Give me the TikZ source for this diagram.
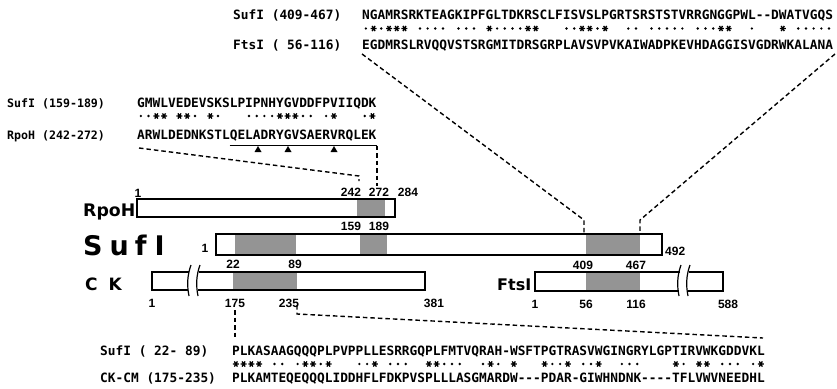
\documentclass[tikz,border=0pt]{standalone}
\usepackage{fontspec}
\setmainfont{Liberation Sans}
\newfontfamily\seqfont{DejaVu Sans Mono}
\newfontfamily\bigfont{DejaVu Sans}
\begin{document}
\begin{tikzpicture}[x=1pt,y=-1pt,
  seq/.style={font=\seqfont\bfseries\fontsize{12.82}{14}\selectfont, inner sep=0pt, anchor=base west},
  seqb/.style={font=\seqfont\bfseries\fontsize{12.82}{14}\selectfont, inner sep=0pt, anchor=base west},
  lab/.style={font=\seqfont\bfseries\fontsize{11.6}{13}\selectfont, inner sep=0pt, anchor=base west},
  num/.style={font=\bfseries\fontsize{12}{13}\selectfont, inner sep=0pt, anchor=base},
  bigl/.style={inner sep=0pt, anchor=base west},
  conn/.style={dash pattern=on 4.5pt off 3pt, line width=1.4pt},
  shade/.style={fill=black!42},
  thinbox/.style={line width=1.2pt},
  midbox/.style={line width=1.5pt},
  thickbox/.style={line width=2.4pt},
  brk/.style={line width=1.2pt},
  starln/.style={line width=1.3pt},
]
\useasboundingbox (0,0) rectangle (837,388);
\fill[white] (0,0) rectangle (837,388);

% ---------- top alignment (SufI 409-467 / FtsI 56-116)
\node[seq] (tlab1) at (233,19) {SufI (409-467)};
\node[seq] (tseq1) at (362,19) {NGAMRSRKTEAGKIPFGLTDKRSCLFISVSLPGRTSRSTSTVRRGNGGPWL-{}-DWATVGQS};
\node[seq] (tlab2) at (233,49) {FtsI ( 56-116)};
\node[seq] (tseq2) at (362,49) {EGDMRSLRVQQVSTSRGMITDRSGRPLAVSVPVKAIWADPKEVHDAGGISVGDRWKALANA};
\foreach \p in {1,3,4,5,16,21,22,28,29,31,46,47,54}{
  \pgfmathsetmacro\xx{362+(\p+0.5)*7.72}
  \draw[starln] (\xx,28.5) +(-3,0) -- +(3,0) +(-1.5,-2.6) -- +(1.5,2.6) +(-1.5,2.6) -- +(1.5,-2.6);
}
\foreach \p in {0,2,7,8,9,10,12,13,14,17,18,19,20,26,27,30,34,35,37,38,39,40,41,43,44,45,50,56,57,58,59,60}{
  \pgfmathsetmacro\xx{362+(\p+0.5)*7.72}
  \fill (\xx,28.5) circle (1.35pt);
}

% ---------- left alignment (SufI 159-189 / RpoH 242-272)
\node[lab] (llab1) at (7,107) {SufI (159-189)};
\node[seqb] (lseq1) at (137,107) {GMWLVEDEVSKSLPIPNHYGVDDFPVIIQDK};
\node[lab] (llab2) at (7,139) {RpoH (242-272)};
\node[seqb] (lseq2) at (137,139) {ARWLDEDNKSTLQELADRYGVSAERVRQLEK};
\foreach \p in {2,3,5,6,9,18,19,20,25,30}{
  \pgfmathsetmacro\xx{137+(\p+0.5)*7.72}
  \draw[starln] (\xx,116) +(-3,0) -- +(3,0) +(-1.5,-2.6) -- +(1.5,2.6) +(-1.5,2.6) -- +(1.5,-2.6);
}
\foreach \p in {0,1,7,10,14,15,16,17,21,22,24,29}{
  \pgfmathsetmacro\xx{137+(\p+0.5)*7.72}
  \fill (\xx,116) circle (1.35pt);
}
\coordinate (ulA) at (229.6,145.5);
\coordinate (ulB) at (377,145.5);
\draw[line width=1.8pt] (ulA) -- (ulB);
\foreach \t in {258,288,334}{
  \fill (\t,146) -- (\t-3.5,152) -- (\t+3.5,152) -- cycle;
}

% ---------- bottom alignment (SufI 22-89 / CK-CM 175-235)
\node[seq] (blab1) at (100,355) {SufI ( 22- 89)};
\node[seq] (bseq1) at (232,355) {PLKASAAGQQQPLPVPPLLESRRGQPLFMTVQRAH-WSFTPGTRASVWGINGRYLGPTIRVWKGDDVKL};
\node[seq] (blab2) at (100,382) {CK-CM (175-235)};
\node[seq] (bseq2) at (232,382) {PLKAMTEQEQQQLIDDHFLFDKPVSPLLLASGMARDW-{}-{}-PDAR-GIWHNDNK-{}-{}-{}-TFLVWVNEEDHL};
\foreach \p in {0,1,2,3,9,10,12,18,25,26,33,36,40,43,47,57,60,61,68}{
  \pgfmathsetmacro\xx{232+(\p+0.5)*7.72}
  \draw[starln] (\xx,364) +(-3,0) -- +(3,0) +(-1.5,-2.6) -- +(1.5,2.6) +(-1.5,2.6) -- +(1.5,-2.6);
}
\foreach \p in {5,6,8,11,16,17,20,21,22,27,28,29,32,34,41,42,45,46,50,51,52,58,63,64,65,67}{
  \pgfmathsetmacro\xx{232+(\p+0.5)*7.72}
  \fill (\xx,364) circle (1.35pt);
}

% ---------- RpoH bar
\fill[shade] (357,199) rectangle (385,217);
\draw[thinbox] (137,199) rectangle (395,217);
\node[bigl, font=\bigfont\bfseries\fontsize{17.3}{20}\selectfont] (rpohlab) at (83,216) {RpoH};
\node[num] (r1) at (138,197) {1};
\node[num] (r242) at (351,196) {242};
\node[num] (r272) at (379,196) {272};
\node[num] (r284) at (408,196) {284};

% ---------- SufI bar
\fill[shade] (235,234) rectangle (296,255);
\fill[shade] (360,234) rectangle (387,255);
\fill[shade] (586,234) rectangle (640,255);
\draw[thickbox] (216,234) rectangle (662,255);
\node[bigl, font=\bigfont\bfseries\fontsize{27}{30}\selectfont] (suflab) at (83,255) {S\hspace{7pt}u\hspace{6pt}f\hspace{8pt}I};
\node[num] (s1) at (205,252) {1};
\node[num] (s159) at (351,230) {159};
\node[num] (s189) at (379,230) {189};
\node[num, anchor=base west] (s492) at (665,255) {492};
\node[num] (s22) at (233,268) {22};
\node[num] (s89) at (295,268) {89};
\node[num] (s409) at (583,269) {409};
\node[num] (s467) at (636,269) {467};

% ---------- CK bar
\fill[shade] (233,272) rectangle (297,290);
\draw[midbox] (189,272) -- (152,272) -- (152,290) -- (188,290);
\draw[midbox] (199,272) -- (425,272) -- (425,290) -- (198,290);
\draw[brk] (191,265) .. controls (187,276) and (187,286) .. (189,296);
\draw[brk] (200,265) .. controls (196,276) and (196,286) .. (198,296);
\node[bigl, font=\bigfont\bfseries\fontsize{17}{20}\selectfont] (cklab) at (85,290) {C\hspace{11pt}K};
\node[num] (c1) at (152,307) {1};
\node[num] (c175) at (235,307) {175};
\node[num] (c235) at (289,307) {235};
\node[num] (c381) at (434,307) {381};

% ---------- FtsI bar
\fill[shade] (586,272) rectangle (640,291);
\draw[midbox] (680,272) -- (535,272) -- (535,291) -- (679,291);
\draw[midbox] (689,272) -- (723,272) -- (723,291) -- (688,291);
\draw[brk] (681,265) .. controls (677,276) and (677,286) .. (679,296);
\draw[brk] (690,265) .. controls (686,276) and (686,286) .. (688,296);
\node[bigl, font=\bigfont\bfseries\fontsize{16}{20}\selectfont] (ftslab) at (497,290) {FtsI};
\node[num] (f1) at (535,308) {1};
\node[num] (f56) at (586,308) {56};
\node[num] (f116) at (636,308) {116};
\node[num] (f588) at (728,308) {588};

% ---------- dashed connectors
\coordinate (tL0) at (362,54);
\coordinate (tL1) at (584,220);
\coordinate (tL2) at (584,234);
\coordinate (tR0) at (835,54);
\coordinate (tR1) at (640,220);
\coordinate (tR2) at (640,234);
\draw[conn] (tL0) -- (tL1) -- (tL2);
\draw[conn] (tR0) -- (tR1) -- (tR2);

\coordinate (lA0) at (139,148);
\coordinate (lA1) at (359,176);
\coordinate (lA2) at (359,181);
\draw[conn] (lA0) -- (lA1) -- (lA2);
\coordinate (lB1) at (377,186);
\draw[conn] (ulB) -- (lB1);

\coordinate (bA0) at (235,310);
\coordinate (bA1) at (235,337);
\draw[conn] (bA0) -- (bA1);
\coordinate (bB0) at (297,305);
\coordinate (bB1) at (297,314);
\coordinate (bB2) at (763,338);
\draw[conn] (bB0) -- (bB1) -- (bB2);
\end{tikzpicture}
\end{document}
